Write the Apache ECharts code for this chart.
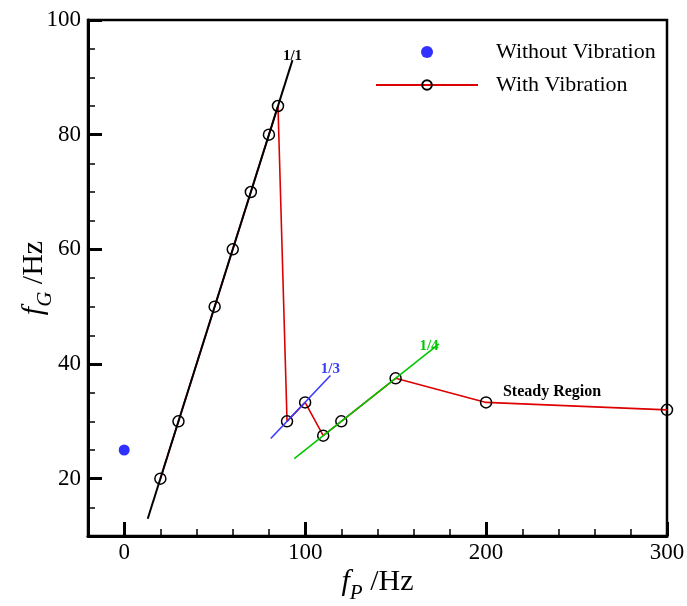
<!DOCTYPE html>
<html>
<head>
<meta charset="utf-8">
<script src="https://cdn.jsdelivr.net/npm/echarts@6/dist/echarts.min.js"></script>
<style>
  html, body { margin: 0; padding: 0; background: #fff; }
  #chart { width: 687px; height: 606px; }
</style>
</head>
<body>
<div id="chart"></div>
<script>
// Gas-phase frequency f_G versus pulse frequency f_P
const fpNoVib = [0];
const fgNoVib = [25];

const fpVib = [20, 30, 50, 60, 70, 80, 85, 90, 100, 110, 120, 150, 200, 300];
const fgVib = [20, 30, 50, 60, 70, 80, 85, 30, 33.3, 27.5, 30, 37.5, 33.3, 32];

// Locking ratio guide lines (end points)
const fpRatio11 = [13, 93];
const fgRatio11 = [13, 93];
const fpRatio13 = [81, 114];
const fgRatio13 = [27, 38];
const fpRatio14 = [94, 174];
const fgRatio14 = [23.5, 43.5];

const xMajorTicks = [0, 100, 200, 300];
const yMajorTicks = [20, 40, 60, 80, 100];

const zip = (xs, ys) => xs.map((x, i) => [x, ys[i]]);

const SERIF = '"Liberation Serif", "Times New Roman", serif';

function endLabel(text, color, offset) {
  return {
    show: true,
    formatter: text,
    position: 'inside',
    offset: offset,
    color: color,
    fontFamily: SERIF,
    fontWeight: 'bold',
    fontSize: 15
  };
}

function guide(xs, ys, color, width, text, offset, z) {
  const data = zip(xs, ys);
  data[data.length - 1] = { value: data[data.length - 1], label: endLabel(text, color, offset) };
  return {
    type: 'line',
    data: data,
    symbol: 'circle',
    symbolSize: 0,
    showSymbol: true,
    lineStyle: { color: color, width: width },
    itemStyle: { color: color },
    z: z,
    silent: true
  };
}

const vibData = zip(fpVib, fgVib);
const idx200 = fpVib.indexOf(200);
vibData[idx200] = {
  value: vibData[idx200],
  label: {
    show: true,
    formatter: 'Steady Region',
    position: 'inside',
    offset: [66, -11],
    color: '#000',
    fontFamily: SERIF,
    fontWeight: 'bold',
    fontSize: 16
  }
};

// italic f with a lowered subscript, followed by the unit
const nameRich = {
  f: { fontFamily: SERIF, fontStyle: 'italic', fontSize: 30, lineHeight: 34, color: '#000' },
  s: { fontFamily: SERIF, fontStyle: 'italic', fontSize: 21, lineHeight: 21, padding: [22, 0, 0, 0], color: '#000' },
  u: { fontFamily: SERIF, fontSize: 30, lineHeight: 34, color: '#000' }
};

const minorTickStyle = { show: true, inside: true, length: 7, lineStyle: { color: '#000', width: 1.5 } };
const majorTickStyle = { show: true, inside: true, length: 14, lineStyle: { color: '#000', width: 3 } };
const tickLabel = { fontFamily: SERIF, fontSize: 23, color: '#000' };

const option = {
  animation: false,
  backgroundColor: '#fff',
  grid: {
    left: 88, right: 20, top: 20, bottom: 70,
    outerBoundsMode: 'none',
    containLabel: false,
    show: true, borderColor: '#000', borderWidth: 2.5, backgroundColor: 'transparent'
  },
  legend: {
    orient: 'vertical',
    left: 375, top: 41,
    padding: 0,
    itemWidth: 102, itemHeight: 12, itemGap: 11,
    data: ['Without Vibration', 'With Vibration'],
    textStyle: { fontFamily: SERIF, fontSize: 22, lineHeight: 22, color: '#000', padding: [0, 0, 0, 13] }
  },
  xAxis: [
    {
      type: 'value', min: -20, max: 300, interval: 20,
      axisLine: { show: true, onZero: false, lineStyle: { color: '#000', width: 3 } },
      axisTick: minorTickStyle,
      axisLabel: { show: false },
      splitLine: { show: false },
      name: '{f|f}{s|P}{u| /Hz}',
      nameLocation: 'middle',
      nameMoveOverlap: false,
      nameGap: 29,
      nameTextStyle: { rich: nameRich }
    },
    {
      type: 'value', min: -20, max: 300, position: 'bottom',
      axisLine: { show: false, onZero: false },
      axisTick: Object.assign({ customValues: xMajorTicks }, majorTickStyle),
      axisLabel: Object.assign({ customValues: xMajorTicks, margin: 5 }, tickLabel),
      splitLine: { show: false }
    }
  ],
  yAxis: [
    {
      type: 'value', min: 10, max: 100, interval: 5,
      axisLine: { show: true, onZero: false, lineStyle: { color: '#000', width: 3 } },
      axisTick: minorTickStyle,
      axisLabel: { show: false },
      splitLine: { show: false },
      name: '{f|f}{s|G}{u| /Hz}',
      nameLocation: 'middle',
      nameRotate: 90,
      nameMoveOverlap: false,
      nameGap: 37,
      nameTextStyle: { rich: nameRich }
    },
    {
      type: 'value', min: 10, max: 100, position: 'left',
      axisLine: { show: false, onZero: false },
      axisTick: Object.assign({ customValues: yMajorTicks }, majorTickStyle),
      axisLabel: Object.assign({ customValues: yMajorTicks, margin: 7 }, tickLabel),
      splitLine: { show: false }
    }
  ],
  series: [
    {
      name: 'With Vibration',
      type: 'line',
      data: vibData,
      symbol: 'circle',
      symbolSize: 11,
      showAllSymbol: true,
      lineStyle: { color: '#dd0000', width: 1.6 },
      itemStyle: { color: 'rgba(0,0,0,0)', borderColor: '#000', borderWidth: 1.5 },
      emphasis: { disabled: true },
      z: 4
    },
    guide(fpRatio11, fgRatio11, '#000', 2, '1/1', [0, -4], 5),
    guide(fpRatio13, fgRatio13, '#3a3aff', 1.6, '1/3', [0, -6], 5),
    guide(fpRatio14, fgRatio14, '#00c800', 1.6, '1/4', [-10, 2], 5),
    {
      name: 'Without Vibration',
      type: 'scatter',
      data: zip(fpNoVib, fgNoVib),
      symbol: 'circle',
      symbolSize: 11,
      itemStyle: { color: '#3030ff', opacity: 1 },
      emphasis: { disabled: true },
      z: 6
    }
  ]
};

const chart = echarts.init(document.getElementById('chart'), null, { renderer: 'canvas' });
chart.setOption(option);
</script>
</body>
</html>
